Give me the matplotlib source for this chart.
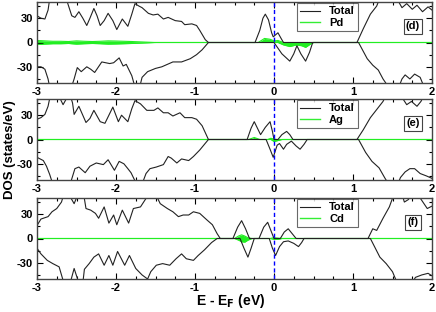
import matplotlib
matplotlib.use('Agg')
import matplotlib.pyplot as plt
from matplotlib.ticker import MultipleLocator

plt.rcParams['font.family'] = ['Liberation Sans', 'DejaVu Sans']
plt.rcParams['font.weight'] = 'bold'
plt.rcParams['axes.unicode_minus'] = False

# ---- panel (d): Total + Pd ----
d_up_e = [-3.0, -2.95, -2.9, -2.86, -2.83, -2.65, -2.6, -2.56, -2.52, -2.47, -2.42, -2.37, -2.33, -2.28,
          -2.24, -2.2, -2.15, -2.1, -2.04, -1.99, -1.92, -1.85, -1.8, -1.76, -1.71, -1.67, -1.59, -1.53,
          -1.47, -1.4, -1.34, -1.25, -1.17, -1.13, -1.04, -0.98, -0.94, -0.87, -0.83, -0.24, -0.18, -0.14,
          -0.11, -0.07, -0.03, -0.01, 0.05, 0.09, 0.12, 1.05, 1.13, 1.22, 1.3, 1.34, 1.55, 1.62, 1.68,
          1.75, 1.81, 1.88, 1.95, 2.0]
d_up = [33, 30, 29, 40, 60, 60, 45, 33, 31, 38, 30, 21, 30, 42,
        33, 21, 27, 36, 27, 16, 29, 20, 35, 48, 45, 43, 36, 34,
        35, 29, 31, 27, 26, 22, 23, 21, 15, 3.5, 0, 0, 15, 30,
        35, 28, 12, 7, 12, 5, 0, 0, 17, 35, 45, 55, 55, 43, 48,
        41, 46, 38, 44, 40]
d_dn_e = [-3.0, -2.95, -2.9, -2.86, -2.83, -2.58, -2.53, -2.49, -2.44, -2.37, -2.32, -2.27, -2.18, -2.08,
          -2.03, -1.96, -1.91, -1.87, -1.8, -1.76, -1.7, -1.67, -1.6, -1.5, -1.42, -1.28, -1.17, -1.06,
          -0.98, -0.91, -0.83, 0.0, 0.1, 0.2, 0.25, 0.29, 0.34, 0.4, 0.45, 0.49, 1.07, 1.18, 1.25, 1.32,
          1.38, 1.45, 1.58, 1.62, 1.66, 1.72, 1.78, 1.85, 1.9, 2.0]
d_dn = [-30, -30, -33, -45, -60, -60, -45, -31, -36, -30, -33, -37, -24, -26,
        -25, -19, -29, -27, -41, -55, -55, -43, -36, -32, -30, -24, -24, -20,
        -15, -9, 0, 0, -14, -23, -14, -4, -14, -23, -12, 0, 0, -20, -28, -34,
        -45, -55, -55, -45, -40, -45, -39, -43, -55, -55]
pd_e = [-3.0, -2.9, -2.8, -2.7, -2.6, -2.5, -2.4, -2.3, -2.2, -2.1, -2.0, -1.9, -1.8, -1.7, -1.5,
        -0.2, -0.12, -0.05, 0.0, 0.05, 0.12, 0.2, 0.28, 0.35, 0.4, 0.46, 0.5, 2.0]
pd_up = [2.5, 2.0, 1.5, 1.5, 1.2, 2.0, 1.5, 1.2, 1.5, 2.0, 1.8, 1.5, 1.2, 0.8, 0,
         0, 5, 4, 2, 2.5, 0, 0, 0, 0, 0, 0, 0, 0]
pd_dn = [-2.5, -2.0, -1.5, -1.5, -1.2, -2.0, -1.5, -1.2, -1.5, -2.0, -1.8, -1.5, -1.2, -0.8, 0,
         0, 0, 0, 0, 0, -3, -5, -3, -4, -6, -2, 0, 0]

# ---- panel (e): Total + Ag ----
e_up_e = [-3.0, -2.95, -2.9, -2.86, -2.83, -2.74, -2.7, -2.67, -2.63, -2.58, -2.55, -2.53, -2.47, -2.38,
          -2.33, -2.28, -2.2, -2.14, -2.09, -2.04, -1.97, -1.93, -1.85, -1.8, -1.76, -1.69, -1.61, -1.52,
          -1.47, -1.4, -1.34, -1.28, -1.19, -1.13, -1.04, -0.98, -0.91, -0.83, -0.34, -0.29, -0.25, -0.21,
          -0.17, -0.11, -0.05, -0.02, 0.0, 0.05, 0.1, 0.16, 0.2, 0.24, 1.05, 1.13, 1.22, 1.3, 1.38, 1.42,
          1.6, 1.68, 1.74, 1.81, 1.86, 1.9, 2.0]
e_up = [25, 27, 31, 41, 55, 55, 49, 43, 50, 55, 45, 31, 41, 21,
        26, 36, 22, 20, 30, 40, 22, 30, 22, 38, 48, 44, 36, 36,
        39, 33, 33, 29, 33, 27, 27, 25, 17, 0, 0, 14, 22, 14,
        6, 15, 22, 10, 0, 0, 6, 10, 6, 0, 0, 12, 27, 37, 47, 55,
        55, 43, 47, 41, 47, 55, 55]
e_dn_e = [-3.0, -2.92, -2.88, -2.84, -2.8, -2.58, -2.52, -2.47, -2.39, -2.33, -2.25, -2.16, -2.1, -2.02,
          -1.96, -1.9, -1.85, -1.81, -1.74, -1.67, -1.62, -1.57, -1.49, -1.4, -1.34, -1.3, -1.23, -1.17,
          -1.08, -1.02, -0.94, -0.83, -0.1, -0.05, -0.01, 0.04, 0.07, 0.12, 0.16, 0.22, 0.28, 0.33, 0.38,
          0.42, 1.07, 1.16, 1.24, 1.33, 1.4, 1.45, 1.57, 1.6, 1.66, 1.72, 1.78, 1.85, 1.93, 2.0]
e_dn = [-22, -26, -33, -43, -55, -55, -36, -34, -41, -33, -29, -31, -25, -38,
        -27, -30, -36, -41, -55, -55, -42, -36, -34, -31, -21, -23, -29, -24,
        -26, -21, -13, 0, 0, -12, -22, -7, -5, -12, -6, -2, -8, -12, -6,
        0, 0, -16, -27, -35, -47, -55, -55, -47, -40, -36, -36, -42, -45, -48]
ag_e = [-3.0, -0.32, -0.25, -0.18, -0.08, -0.04, 0.0, 0.04, 0.1, 2.0]
ag_up = [0, 0, 2.5, 0, 0, 1.5, 0.5, 0, 0, 0]
ag_dn = [0, 0, 0, 0, 0, 0, -2.5, -1.5, 0, 0]

# ---- panel (f): Total + Cd ----
f_up_e = [-3.0, -2.95, -2.86, -2.81, -2.75, -2.69, -2.66, -2.6, -2.53, -2.48, -2.41, -2.38, -2.32, -2.26,
          -2.22, -2.15, -2.09, -2.03, -1.99, -1.92, -1.84, -1.78, -1.69, -1.63, -1.58, -1.5, -1.44, -1.35,
          -1.28, -1.21, -1.15, -1.08, -1.02, -0.94, -0.85, -0.78, -0.72, -0.68, -0.52, -0.46, -0.41, -0.36,
          -0.31, -0.19, -0.13, -0.08, -0.04, 0.0, 0.08, 0.13, 0.18, 0.23, 0.28, 1.19, 1.25, 1.3, 1.38,
          1.46, 1.52, 1.62, 1.65, 1.7, 1.75, 1.85, 1.94, 2.0]
f_up = [16, 24, 27, 33, 37, 45, 55, 55, 43, 55, 55, 37, 35, 31,
        25, 39, 19, 29, 17, 35, 19, 37, 39, 48, 55, 55, 43, 37,
        33, 27, 29, 29, 33, 31, 23, 17, 6, 0, 0, 14, 22, 12,
        0, 0, 14, 20, 10, 0, 0, 8, 12, 6, 0, 0, 12, 10, 25,
        39, 55, 55, 45, 48, 55, 50, 37, 40]
f_dn_e = [-3.0, -2.95, -2.87, -2.8, -2.72, -2.66, -2.58, -2.53, -2.47, -2.42, -2.4, -2.34, -2.28, -2.22,
          -2.15, -2.09, -2.04, -1.98, -1.89, -1.83, -1.75, -1.67, -1.6, -1.56, -1.49, -1.41, -1.32, -1.24,
          -1.17, -1.11, -1.02, -0.96, -0.88, -0.79, -0.72, -0.43, -0.38, -0.33, -0.29, -0.25, -0.06, -0.02,
          0.02, 0.07, 0.12, 0.18, 0.25, 0.31, 0.35, 0.38, 1.22, 1.34, 1.42, 1.5, 1.56, 1.75, 1.79, 1.87,
          1.95, 2.0]
f_dn = [-12, -19, -27, -31, -35, -55, -55, -37, -55, -55, -38, -31, -23, -19,
        -33, -21, -33, -16, -33, -21, -37, -45, -50, -41, -33, -31, -33, -25,
        -19, -25, -27, -21, -14, -5, 0, 0, -12, -23, -12, 0, 0, -12,
        -21, -10, -4, -3, -6, -10, -5, 0, 0, -23, -31, -41, -55, -55, -48, -45,
        -43, -46]
cd_e = [-3.0, -0.5, -0.45, -0.41, -0.37, -0.33, -0.28, -0.05, 0.0, 0.05, 0.1, 2.0]
cd_up = [0, 0, 3, 4.5, 3, 1, 0, 0, 1, 0.5, 0, 0]
cd_dn = [0, 0, -2, -4, -4.5, -2, 0, 0, -1, -1, 0, 0]

panels = [
    (d_up_e, d_up, d_dn_e, d_dn, pd_e, pd_up, pd_dn, 'Pd', '(d)'),
    (e_up_e, e_up, e_dn_e, e_dn, ag_e, ag_up, ag_dn, 'Ag', '(e)'),
    (f_up_e, f_up, f_dn_e, f_dn, cd_e, cd_up, cd_dn, 'Cd', '(f)'),
]

fig = plt.figure(figsize=(4.36, 3.12), dpi=100)
left, width, height = 37 / 436, 395 / 436, 81 / 312
bottoms = [1 - 83 / 312, 1 - 180 / 312, 1 - 279 / 312]

green = '#22ee22'
for (ue, u, de, dn, pe, pu, pdn, name, tag), b in zip(panels, bottoms):
    ax = fig.add_axes([left, b, width, height])
    ax.fill_between(pe, pu, 0, color=green, lw=0)
    ax.fill_between(pe, pdn, 0, color=green, lw=0)
    ax.plot(pe, pu, color=green, lw=0.8)
    ax.plot(pe, pdn, color=green, lw=0.8)
    l1, = ax.plot(ue, u, color='#222222', lw=0.8)
    ax.plot(de, dn, color='#222222', lw=0.8)
    l2, = ax.plot([], [], color='#33ee33', lw=1)
    ax.axvline(0, color='blue', lw=1, dashes=(3, 2))
    ax.set_xlim(-3, 2)
    ax.set_ylim(-50, 50)
    ax.xaxis.set_major_locator(MultipleLocator(1))
    ax.xaxis.set_minor_locator(MultipleLocator(0.25))
    ax.yaxis.set_major_locator(MultipleLocator(30))
    ax.yaxis.set_minor_locator(MultipleLocator(15))
    ax.tick_params(which='both', direction='in', top=True, right=True, labelsize=8, pad=3)
    ax.tick_params(which='major', length=4, width=0.8)
    ax.tick_params(which='minor', length=2.5, width=0.8)
    for s in ax.spines.values():
        s.set_color('#444444')
        s.set_linewidth(1.0)
    leg = ax.legend([l1, l2], ['Total', name], loc='upper left', bbox_to_anchor=(0.655, 1.0),
                    fontsize=8, frameon=True, fancybox=False, handlelength=1.8,
                    borderpad=0.3, labelspacing=0.1, handletextpad=0.8, borderaxespad=0.1)
    leg.get_frame().set_edgecolor('#444444')
    leg.get_frame().set_linewidth(0.8)
    ax.text(0.952, 0.70, tag, transform=ax.transAxes, ha='center', va='center', fontsize=8,
            bbox=dict(boxstyle='square,pad=0.2', fc='white', ec='#444444', lw=0.8))

fig.text(0.022, 0.52, 'DOS (states/eV)', rotation=90, ha='center', va='center',
         fontsize=9.5, fontweight='bold')
fig.text(0.53, 0.035, r'E - E$_\mathbf{F}$ (eV)', ha='center', va='center',
         fontsize=10, fontweight='bold')

fig.savefig('out.png', dpi=100)
